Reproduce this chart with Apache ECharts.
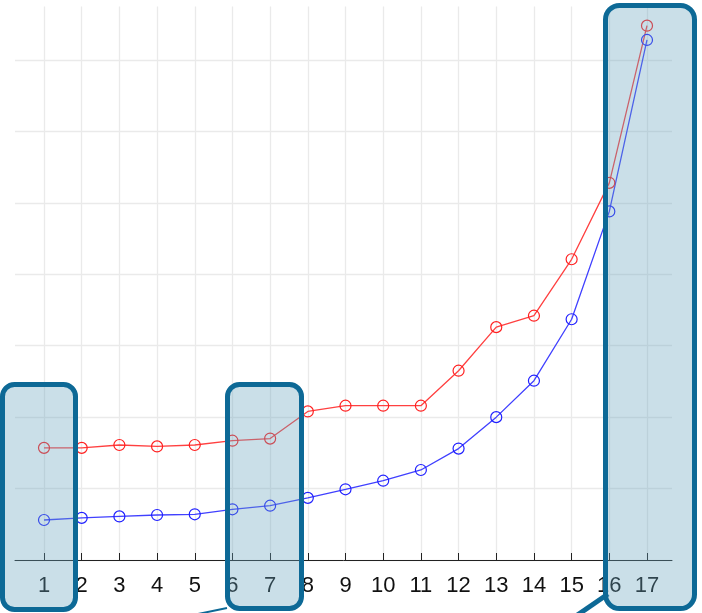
<!DOCTYPE html>
<html>
<head>
<meta charset="utf-8">
<script src="https://cdn.jsdelivr.net/npm/echarts@6/dist/echarts.min.js"></script>
<style>html,body{margin:0;padding:0;background:#fff}#c{width:702px;height:613px}</style>
</head>
<body>
<div id="c"></div>
<script>
var categories = ['1','2','3','4','5','6','7','8','9','10','11','12','13','14','15','16','17'];
var redValues  = [1.57,1.57,1.61,1.59,1.61,1.67,1.70,2.08,2.16,2.16,2.16,2.65,3.26,3.42,4.21,5.28,7.48];
var blueValues = [0.56,0.59,0.61,0.63,0.64,0.71,0.76,0.87,0.99,1.11,1.26,1.56,2.00,2.51,3.37,4.88,7.28];
var yMin = 0, yMax = 7.75, yGridMax = 7, yStep = 1;

var chart = echarts.init(document.getElementById('c'), null, {renderer: 'canvas'});
var border = '#0d6996';
var fill = 'rgba(103,163,189,0.35)';
chart.setOption({
  animation: false,
  grid: [
    {left: 44, width: 603, top: 6.4, height: 553.6},
    {left: 15, width: 657, top: 60, height: 500}
  ],
  xAxis: [
    {type: 'category', gridIndex: 0, data: categories, boundaryGap: false,
     axisLine: {show: false},
     axisTick: {show: true, inside: true, length: 7, lineStyle: {color: '#222', width: 1}},
     axisLabel: {show: true, margin: 15, color: '#111', fontSize: 22, fontFamily: 'Liberation Sans, Arial, sans-serif'},
     splitLine: {show: true, lineStyle: {color: '#eaeaea', width: 1.3}}},
    {type: 'value', gridIndex: 1, min: 0, max: 1,
     axisLine: {show: true, lineStyle: {color: '#222', width: 1}},
     axisTick: {show: false}, axisLabel: {show: false}, splitLine: {show: false}}
  ],
  yAxis: [
    {type: 'value', gridIndex: 0, min: yMin, max: yMax, interval: yStep,
     axisLine: {show: false}, axisTick: {show: false}, axisLabel: {show: false}, splitLine: {show: false}},
    {type: 'value', gridIndex: 1, min: yMin, max: yGridMax, interval: yStep,
     axisLine: {show: false}, axisTick: {show: false}, axisLabel: {show: false},
     splitLine: {show: true, lineStyle: {color: '#eaeaea', width: 1.3}}}
  ],
  series: [
    {type: 'line', xAxisIndex: 0, yAxisIndex: 0, data: redValues,
     symbol: 'circle', symbolSize: 11,
     itemStyle: {color: 'rgba(0,0,0,0)', borderColor: '#ff2020', borderWidth: 1.2},
     lineStyle: {color: '#ff4040', width: 1.3}},
    {type: 'line', xAxisIndex: 0, yAxisIndex: 0, data: blueValues,
     symbol: 'circle', symbolSize: 11,
     itemStyle: {color: 'rgba(0,0,0,0)', borderColor: '#2020ff', borderWidth: 1.2},
     lineStyle: {color: '#4040ff', width: 1.3}}
  ],
  graphic: [
    {type: 'line', z: 100, shape: {x1: 227, y1: 608, x2: 198, y2: 614}, style: {stroke: border, lineWidth: 2}},
    {type: 'line', z: 100, shape: {x1: 608, y1: 594, x2: 576, y2: 616}, style: {stroke: border, lineWidth: 5}},
    {type: 'rect', z: 101, shape: {x: 2.5, y: 384.5, width: 73, height: 225, r: 12}, style: {fill: fill, stroke: border, lineWidth: 5}},
    {type: 'rect', z: 101, shape: {x: 227.5, y: 384.5, width: 74, height: 224, r: 12}, style: {fill: fill, stroke: border, lineWidth: 5}},
    {type: 'rect', z: 101, shape: {x: 605.5, y: 5.5, width: 89, height: 603, r: 14}, style: {fill: fill, stroke: border, lineWidth: 5}}
  ]
});
</script>
</body>
</html>
